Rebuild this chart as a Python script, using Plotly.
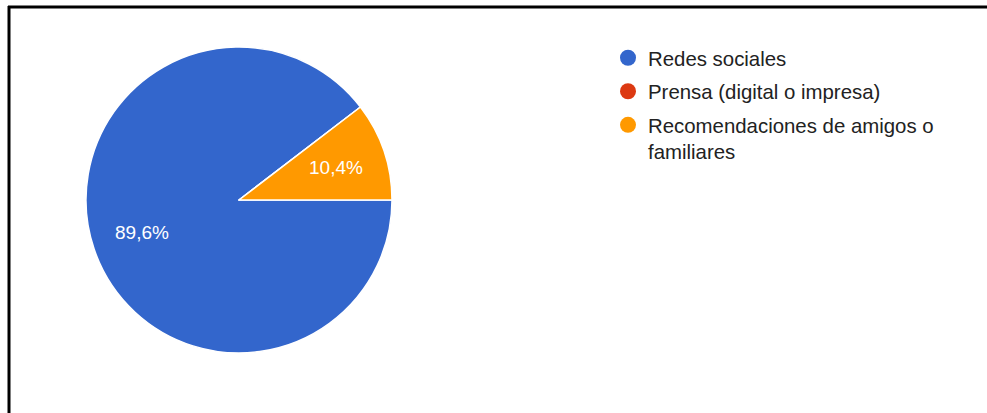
import math
import plotly.graph_objects as go

labels = ["Redes sociales", "Prensa (digital o impresa)", "Recomendaciones de amigos o familiares"]
legend_names = ["Redes sociales", "Prensa (digital o impresa)", "Recomendaciones de amigos o<br>familiares"]
shares = [89.6, 0.0, 10.4]
share_text = ["89,6%", "", "10,4%"]
colors = ["#3366CC", "#DC3912", "#FF9900"]

W, H = 987, 413
CX, CY, R = 239, 200, 153          # pie centre / radius in pixels
FONT = "Arial, Liberation Sans, sans-serif"

fig = go.Figure()

fig.add_trace(go.Pie(
    labels=labels,
    values=shares,
    textinfo="none",
    marker=dict(colors=colors, line=dict(color="white", width=1.5)),
    sort=False,
    direction="clockwise",
    rotation=90,
    showlegend=False,
    hoverinfo="label+percent",
    domain=dict(x=[(CX - R) / W, (CX + R) / W],
                y=[(H - CY - R) / H, (H - CY + R) / H]),
))

# percentage labels placed along each slice's mid-angle
annotations = []
total = sum(shares)
start = 0.0  # degrees, measured clockwise from 3 o'clock
for val, txt in zip(shares, share_text):
    sweep = 360.0 * val / total
    if txt:
        mid = math.radians(start + sweep / 2)
        px = CX + 0.67 * R * math.cos(mid)
        py = CY + 0.67 * R * math.sin(mid)
        annotations.append(dict(
            x=px / W, y=1 - py / H, xref="paper", yref="paper",
            text=txt, showarrow=False, xanchor="center", yanchor="middle",
            font=dict(color="white", size=19, family=FONT),
        ))
    start += sweep

# circle-marker legend entries, one group each so the gap can be set
for i, (name, c) in enumerate(zip(legend_names, colors)):
    fig.add_trace(go.Scatter(
        x=[None], y=[None], mode="markers", name=name,
        legendgroup=f"g{i}",
        marker=dict(color=c, size=18, symbol="circle"),
        hoverinfo="skip",
    ))

fig.update_layout(
    width=W, height=H,
    margin=dict(l=0, r=0, t=0, b=0),
    paper_bgcolor="white", plot_bgcolor="white",
    xaxis=dict(visible=False), yaxis=dict(visible=False),
    font=dict(family=FONT, size=20.4, color="#222222"),
    annotations=annotations,
    legend=dict(x=608 / W, y=1 - 38 / H, xanchor="left", yanchor="top",
                valign="top", bgcolor="rgba(0,0,0,0)",
                tracegroupgap=4,
                font=dict(size=20.4, color="#222222", family=FONT)),
    shapes=[
        dict(type="line", xref="paper", yref="paper",
             x0=8 / W, x1=1, y0=1 - 7 / H, y1=1 - 7 / H,
             line=dict(color="black", width=3)),
        dict(type="line", xref="paper", yref="paper",
             x0=9 / W, x1=9 / W, y0=0, y1=1 - 6 / H,
             line=dict(color="black", width=3)),
    ],
)

fig.write_html("out.html")
